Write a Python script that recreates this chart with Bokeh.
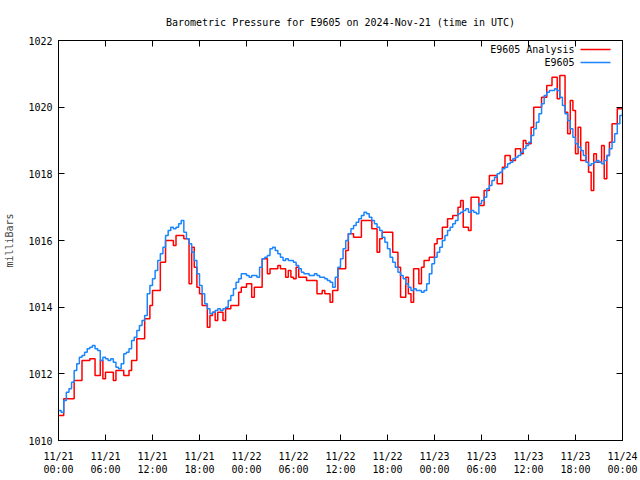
import numpy as np
from bokeh.plotting import figure
from bokeh.models import Range1d, FixedTicker, LinearAxis, Label, Arrow
from bokeh.embed import file_html
from bokeh.resources import INLINE

# ---------------- data ----------------
title_text = "Barometric Pressure for E9605 on 2024-Nov-21 (time in UTC)"
series_names = ["E9605 Analysis", "E9605"]

# 20-minute samples from 2024-11-21 00:00 UTC to 2024-11-24 00:00 UTC
hours = np.arange(217) / 3.0

station = [
    1010.9, 1010.85, 1011.2, 1011.45, 1011.55, 1011.75, 1012.1, 1012.3, 1012.5, 1012.55,
    1012.65, 1012.75, 1012.8, 1012.85, 1012.75, 1012.7, 1012.4, 1012.5, 1012.45, 1012.4,
    1012.45, 1012.35, 1012.2, 1012.15, 1012.3, 1012.6, 1012.65, 1012.75, 1013.0, 1013.1,
    1013.3, 1013.45, 1013.6, 1013.75, 1014.4, 1014.65, 1014.85, 1015.1, 1015.4, 1015.6,
    1015.8, 1016.15, 1016.3, 1016.4, 1016.35, 1016.4, 1016.5, 1016.6, 1016.25, 1016.05,
    1015.9, 1015.65, 1015.4, 1015.0, 1014.65, 1014.4, 1014.1, 1013.95, 1013.8, 1013.85,
    1013.9, 1013.95, 1013.9, 1013.95, 1014.0, 1014.2, 1014.35, 1014.55, 1014.75, 1014.85,
    1015.0, 1015.0, 1014.95, 1014.9, 1014.95, 1014.95, 1014.9, 1015.2, 1015.45, 1015.5,
    1015.55, 1015.75, 1015.8, 1015.7, 1015.6, 1015.5, 1015.4, 1015.45, 1015.4, 1015.4,
    1015.35, 1015.25, 1015.15, 1015.05, 1015.0, 1015.0, 1014.95, 1014.95, 1015.0, 1014.95,
    1014.9, 1014.9, 1014.85, 1014.8, 1014.75, 1014.6, 1014.9, 1015.2, 1015.45, 1015.75,
    1016.0, 1016.2, 1016.35, 1016.45, 1016.55, 1016.65, 1016.75, 1016.85, 1016.8, 1016.7,
    1016.6, 1016.5, 1016.4, 1016.3, 1016.1, 1015.95, 1015.75, 1015.5, 1015.35, 1015.2,
    1015.05, 1014.95, 1014.85, 1014.7, 1014.6, 1014.5, 1014.55, 1014.5, 1014.5, 1014.45,
    1014.5, 1014.7, 1015.0, 1015.3, 1015.5, 1015.65, 1015.8, 1016.0, 1016.15, 1016.3,
    1016.4, 1016.5, 1016.6, 1016.8, 1016.85, 1016.9, 1016.95, 1016.85, 1016.9, 1016.85,
    1016.8, 1017.1, 1017.2, 1017.3, 1017.55, 1017.65, 1017.8, 1017.9, 1018.0, 1018.05,
    1018.15, 1018.2, 1018.3, 1018.35, 1018.45, 1018.5, 1018.55, 1018.65, 1018.75, 1018.85,
    1018.95, 1019.15, 1019.35, 1019.55, 1019.8, 1020.1, 1020.35, 1020.45, 1020.5, 1020.5,
    1020.55, 1020.5, 1020.3, 1020.05, 1019.8, 1019.6, 1019.35, 1019.1, 1018.9, 1018.8,
    1018.7, 1018.55, 1018.35, 1018.25, 1018.3, 1018.35, 1018.4, 1018.35, 1018.3, 1018.4,
    1018.55, 1018.75, 1018.95, 1019.2, 1019.5, 1019.75, 1019.95,
]

analysis = [
    1010.75, 1010.75, 1011.25, 1011.25, 1011.25, 1011.25, 1011.8, 1011.8, 1011.8, 1012.4,
    1012.4, 1012.4, 1012.45, 1012.45, 1011.95, 1011.95, 1012.4, 1011.85, 1012.05, 1012.05,
    1012.05, 1011.8, 1012.1, 1012.1, 1012.1, 1011.95, 1011.95, 1012.1, 1012.4, 1012.4,
    1013.05, 1013.05, 1013.05, 1013.65, 1013.65, 1014.05, 1014.5, 1014.5, 1014.5, 1015.35,
    1015.35, 1016.0, 1016.0, 1016.0, 1015.85, 1016.15, 1016.15, 1016.15, 1016.05, 1016.05,
    1014.7, 1015.8, 1015.2, 1014.6, 1014.4, 1014.05, 1014.05, 1013.4, 1013.75, 1013.85,
    1013.6, 1013.85, 1013.85, 1013.6, 1013.95, 1013.95, 1014.05, 1014.05, 1014.05, 1014.45,
    1014.6, 1014.6, 1014.7, 1014.7, 1014.3, 1014.6, 1014.6, 1014.6, 1015.45, 1015.45,
    1015.0, 1015.15, 1015.15, 1015.15, 1015.25, 1015.15, 1015.15, 1014.9, 1015.1, 1014.9,
    1014.85, 1015.2, 1014.9, 1014.9, 1014.9, 1014.8, 1014.8, 1014.8, 1014.8, 1014.4,
    1014.4, 1014.5, 1014.4, 1014.4, 1014.15, 1014.5, 1014.5, 1015.15, 1015.15, 1015.15,
    1015.7, 1016.2, 1016.2, 1016.1, 1016.1, 1016.1, 1016.6, 1016.6, 1016.6, 1016.6,
    1016.35, 1016.35, 1015.65, 1016.05, 1016.25, 1016.25, 1016.25, 1016.25, 1015.65, 1015.65,
    1015.2, 1014.3, 1014.3, 1014.9, 1014.4, 1014.15, 1015.15, 1015.15, 1014.7, 1015.2,
    1015.4, 1015.4, 1015.5, 1015.5, 1015.9, 1016.05, 1016.05, 1016.4, 1016.4, 1016.65,
    1016.65, 1016.75, 1016.75, 1017.0, 1017.2, 1016.4, 1016.4, 1016.3, 1017.3, 1017.3,
    1017.3, 1017.05, 1017.05, 1017.5, 1017.5, 1017.95, 1017.95, 1017.95, 1017.7, 1017.7,
    1018.2, 1018.55, 1018.55, 1018.4, 1018.4, 1018.75, 1018.75, 1018.6, 1019.0, 1018.9,
    1018.9, 1019.4, 1020.0, 1020.0, 1020.0, 1020.3, 1020.3, 1020.65, 1020.65, 1020.9,
    1020.9, 1020.25, 1020.95, 1020.95, 1019.85, 1019.2, 1020.2, 1019.9, 1018.6, 1019.4,
    1018.4, 1018.4, 1018.95, 1018.05, 1017.5, 1018.6, 1018.35, 1018.35, 1018.85, 1017.85,
    1018.55, 1018.95, 1019.5, 1019.5, 1019.95, 1019.95, 1019.95,
]

x_tick_hours = [0, 6, 12, 18, 24, 30, 36, 42, 48, 54, 60, 66, 72]
x_tick_labels = ["11/21\n00:00", "11/21\n06:00", "11/21\n12:00", "11/21\n18:00",
                 "11/22\n00:00", "11/22\n06:00", "11/22\n12:00", "11/22\n18:00",
                 "11/23\n00:00", "11/23\n06:00", "11/23\n12:00", "11/23\n18:00",
                 "11/24\n00:00"]
y_ticks = [1010, 1012, 1014, 1016, 1018, 1020, 1022]

# ---------------- styling ----------------
FONT = "DejaVu Sans Mono"
FS = "10px"
RED = "#ff0000"
BLUE = "#1a85ff"

p = figure(frame_width=564, frame_height=400,
           x_range=Range1d(0, 72), y_range=Range1d(1010, 1022),
           output_backend="svg", toolbar_location=None,
           min_border_left=58, min_border_right=16,
           min_border_top=40, min_border_bottom=38)

p.title.text = title_text
p.title.align = "center"
p.title.text_font = FONT
p.title.text_font_size = FS
p.title.text_font_style = "normal"
p.title.text_color = "black"
p.title.standoff = 25

p.xgrid.visible = False
p.ygrid.visible = False
p.outline_line_color = "black"
p.outline_line_alpha = 1.0
p.background_fill_color = "white"
p.border_fill_color = "white"

xticker = FixedTicker(ticks=x_tick_hours, minor_ticks=[])
yticker = FixedTicker(ticks=y_ticks, minor_ticks=[])


def style_axis(ax):
    ax.axis_line_color = "black"
    ax.major_tick_line_color = "black"
    ax.major_tick_in = 6
    ax.major_tick_out = 0
    ax.minor_tick_in = 3
    ax.minor_tick_out = 0
    ax.minor_tick_line_color = "black"
    ax.major_label_text_font = FONT
    ax.major_label_text_font_size = FS
    ax.major_label_text_color = "black"


xa = p.xaxis[0]
xa.ticker = xticker
style_axis(xa)
xa.major_label_overrides = {h: lab for h, lab in zip(x_tick_hours, x_tick_labels)}
xa.major_label_standoff = 10

ya = p.yaxis[0]
ya.ticker = yticker
style_axis(ya)
ya.axis_label = "milliBars"
ya.axis_label_text_font = FONT
ya.axis_label_text_font_size = FS
ya.axis_label_text_font_style = "normal"
ya.axis_label_standoff = 10
ya.major_label_standoff = 6

# mirrored tick marks on top and right (no labels)
top = LinearAxis(ticker=xticker)
style_axis(top)
top.major_label_overrides = {h: "" for h in x_tick_hours}
top.major_label_standoff = 0
p.add_layout(top, "above")
right = LinearAxis(ticker=yticker)
style_axis(right)
right.major_label_overrides = {v: "" for v in y_ticks}
right.major_label_standoff = 0
p.add_layout(right, "right")

p.step(hours, analysis, mode="after", line_color=RED, line_width=1.5)
p.step(hours, station, mode="after", line_color=BLUE, line_width=1.5)

# gnuplot-style key: text right-aligned, sample line to its right
key_rows = [(1021.73, series_names[0], RED), (1021.34, series_names[1], BLUE)]
for ky, name, col in key_rows:
    p.add_layout(Label(x=65.87, y=ky, text=name, text_align="right",
                       text_baseline="middle", text_font=FONT, text_font_size=FS,
                       text_color="black"))
    p.add_layout(Arrow(end=None, x_start=66.64, y_start=ky, x_end=70.47, y_end=ky,
                       line_color=col, line_width=1.5))

open("out.html", "w").write(file_html(p, INLINE))
